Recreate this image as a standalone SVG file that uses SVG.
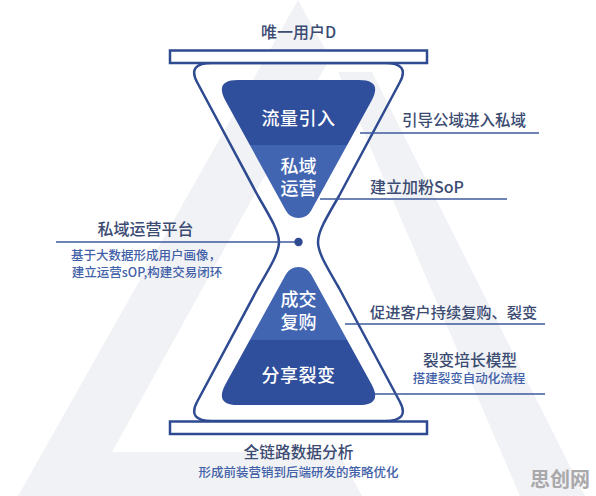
<svg xmlns="http://www.w3.org/2000/svg" width="596" height="496" viewBox="0 0 596 496">
<style>
.lbl{font-family:"Noto Sans CJK SC","Noto Sans",sans-serif;fill:#3b4b72;font-weight:500}
.sub{font-family:"Noto Sans CJK SC","Noto Sans",sans-serif;fill:#4261a8;font-size:12.5px;font-weight:500}
.inner{font-family:"Noto Sans CJK SC","Noto Sans",sans-serif;fill:#ffffff;font-size:18px;text-anchor:middle;font-weight:500}
.out{fill:none;stroke:#2e4a90;stroke-width:2.5}
.bar{fill:#ffffff;stroke:#2e4a90;stroke-width:2.5}
.conn{stroke:#3d5a9c;stroke-width:1.5;fill:none}
.bg{fill:#f1f2f5}
</style>
<defs>
<path id="funnel" d="M 238,80 H 359 Q 383,80 371.4,101 L 311.2,210.5 A 14.5 14.5 0 0 1 285.8,210.5 L 225.6,101 Q 214,80 238,80 Z"/>
<clipPath id="fclip"><use href="#funnel"/></clipPath>
</defs>
<rect width="596" height="496" fill="#ffffff"/>
<g id="watermark">
<polygon class="bg" points="298,0 330,58 112,452 338,452 362,496 18,496"/>
<polygon class="bg" points="338,72 372,72 585,496 520,496"/>
</g>
<g id="hourglass">
<path class="out" d="M 212,63 H 385 Q 410,63 400,82 L 339,196 C 325,220 318,232 318,242 C 318,252 325,264 339,288 L 400,402 Q 410,421 385,421 H 212 Q 187,421 197,402 L 258,288 C 272,264 279,252 279,242 C 279,232 272,220 258,196 L 197,82 Q 187,63 212,63 Z"/>
<rect class="bar" x="170" y="50.5" width="257" height="12.5"/>
<rect class="bar" x="170" y="421.5" width="257" height="12.5"/>
</g>
<g id="top-funnel">
<g clip-path="url(#fclip)">
<rect x="200" y="70" width="200" height="75" fill="#2f4e9c"/>
<rect x="200" y="145" width="200" height="100" fill="#4265b2"/>
</g>
</g>
<g id="bottom-funnel" transform="translate(0,485) scale(1,-1)">
<g clip-path="url(#fclip)">
<rect x="200" y="70" width="200" height="75" fill="#2f4e9c"/>
<rect x="200" y="145" width="200" height="100" fill="#4265b2"/>
</g>
</g>
<g id="connectors">
<line class="conn" x1="360" y1="133" x2="539" y2="133"/>
<line class="conn" x1="320" y1="199" x2="507" y2="199"/>
<line class="conn" x1="56" y1="242" x2="296" y2="242"/>
<circle cx="298.5" cy="242" r="4.2" fill="#2e4a90"/>
<line class="conn" x1="345" y1="324" x2="545" y2="324"/>
<line class="conn" x1="375" y1="394" x2="545" y2="394"/>
</g>
<g id="node-unique-id">
<text class="lbl" x="298.5" y="38" font-size="16" text-anchor="middle">唯一用户D</text>
</g>
<g id="node-traffic">
<text class="inner" x="298.5" y="124.5" font-size="18.5" letter-spacing="0.5">流量引入</text>
<text class="lbl" x="402" y="125.5" font-size="15.5">引导公域进入私域</text>
</g>
<g id="node-private-ops">
<text class="inner" x="298.5" y="172.5">私域</text>
<text class="inner" x="298.5" y="194.5">运营</text>
<text class="lbl" x="370" y="193" font-size="16">建立加粉SoP</text>
</g>
<g id="node-platform">
<text class="lbl" x="145.5" y="235" font-size="16" text-anchor="middle">私域运营平台</text>
<text class="sub" x="146" y="259.5" text-anchor="middle">基于大数据形成用户画像，</text>
<text class="sub" x="147" y="276.5" text-anchor="middle">建立运营sOP,构建交易闭环</text>
</g>
<g id="node-deal">
<text class="inner" x="298.5" y="306">成交</text>
<text class="inner" x="298.5" y="329">复购</text>
<text class="lbl" x="370" y="317.5" font-size="15.2">促进客户持续复购、裂变</text>
</g>
<g id="node-share">
<text class="inner" x="298.5" y="381.5" font-size="18.5" letter-spacing="0.5">分享裂变</text>
<text class="lbl" x="470" y="365.5" font-size="15.7" text-anchor="middle">裂变培长模型</text>
<text class="sub" x="469" y="382.5" text-anchor="middle">搭建裂变自动化流程</text>
</g>
<g id="node-analysis">
<text class="lbl" x="298.5" y="457.5" font-size="15.7" text-anchor="middle">全链路数据分析</text>
<text class="sub" x="298.5" y="476.5" text-anchor="middle">形成前装营销到后端研发的策略优化</text>
</g>
<text x="560" y="487" font-family="Noto Sans CJK SC,sans-serif" font-size="20" font-weight="700" fill="#a9a9ab" text-anchor="middle">思创网</text>
</svg>
